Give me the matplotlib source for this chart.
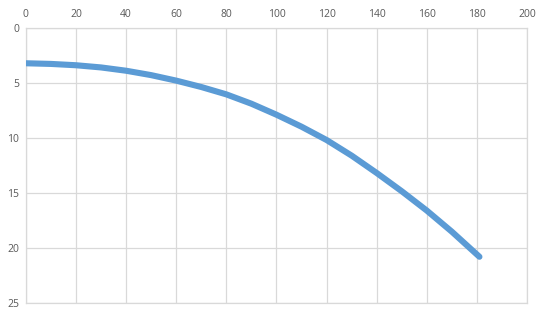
import matplotlib.pyplot as plt

# values
x_vals = [0, 10, 20, 30, 40, 50, 60, 70, 80, 90, 100, 110, 120, 130, 140, 150, 160, 170, 181]
y_vals = [3.2, 3.26, 3.38, 3.58, 3.88, 4.28, 4.78, 5.36, 6.03, 6.88, 7.88, 8.97, 10.18,
          11.6, 13.18, 14.84, 16.6, 18.52, 20.8]
x_ticks = [0, 20, 40, 60, 80, 100, 120, 140, 160, 180, 200]
y_ticks = [0, 5, 10, 15, 20, 25]

plt.rcParams["font.family"] = ["Open Sans", "DejaVu Sans"]

fig = plt.figure(figsize=(5.4, 3.12), dpi=100)
ax = fig.add_axes([0.048, 0.029, 0.928, 0.881])

ax.plot(x_vals, y_vals, color="#5B9BD5", linewidth=4.4,
        solid_capstyle="round", solid_joinstyle="round", zorder=3)

ax.set_xlim(0, 200)
ax.set_ylim(25, 0)
ax.set_xticks(x_ticks)
ax.set_yticks(y_ticks)
ax.xaxis.tick_top()
ax.tick_params(length=0, labelsize=7.5, colors="#595959", pad=6)
ax.tick_params(axis="y", pad=5)

ax.grid(True, color="#D9D9D9", linewidth=0.9)
ax.set_axisbelow(True)
for s in ax.spines.values():
    s.set_color("#D9D9D9")
    s.set_linewidth(0.9)

fig.savefig("out.png", dpi=100)
